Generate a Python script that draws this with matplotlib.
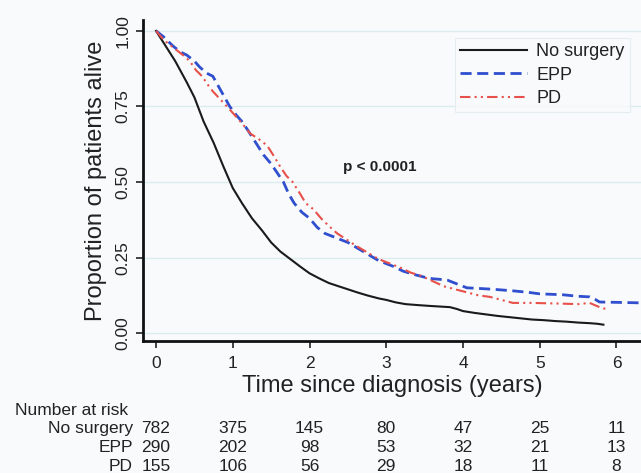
import matplotlib
matplotlib.use("Agg")
import matplotlib.pyplot as plt
from matplotlib import transforms

plt.rcParams["font.family"] = ["Liberation Sans", "DejaVu Sans"]

# Kaplan-Meier estimates (time in years, survival)
nosurg_t = [0, 0.1, 0.25, 0.4, 0.5, 0.62, 0.75, 0.88, 1.0, 1.12, 1.25, 1.38, 1.5, 1.62,
            1.75, 1.88, 2.0, 2.12, 2.25, 2.38, 2.5, 2.62, 2.75, 2.9, 3.0, 3.12, 3.25,
            3.4, 3.57, 3.7, 3.83, 3.92, 4.0, 4.15, 4.3, 4.45, 4.6, 4.75, 4.9, 5.05,
            5.2, 5.35, 5.5, 5.65, 5.75, 5.83]
nosurg_s = [1.0, 0.96, 0.90, 0.83, 0.78, 0.70, 0.63, 0.55, 0.48, 0.43, 0.38, 0.34, 0.30, 0.27,
            0.245, 0.22, 0.198, 0.182, 0.166, 0.155, 0.145, 0.135, 0.125, 0.115, 0.11, 0.102, 0.096,
            0.093, 0.09, 0.088, 0.086, 0.08, 0.073, 0.067, 0.062, 0.057, 0.053, 0.049, 0.045, 0.043,
            0.04, 0.038, 0.035, 0.033, 0.031, 0.028]

epp_t = [0, 0.1, 0.22, 0.32, 0.4, 0.5, 0.57, 0.66, 0.74, 0.85, 0.96, 1.05, 1.12, 1.2, 1.3,
         1.4, 1.5, 1.58, 1.66, 1.73, 1.8, 1.9, 2.0, 2.1, 2.2, 2.3, 2.4, 2.5, 2.6, 2.7,
         2.8, 2.9, 3.0, 3.1, 3.22, 3.35, 3.5, 3.6, 3.7, 3.8, 3.95, 4.05, 4.2, 4.4, 4.65,
         4.85, 5.0, 5.3, 5.5, 5.65, 5.72, 5.78, 6.35]
epp_s = [1.0, 0.98, 0.95, 0.93, 0.92, 0.90, 0.88, 0.86, 0.85, 0.80, 0.75, 0.72, 0.70, 0.67, 0.63,
         0.59, 0.56, 0.53, 0.50, 0.46, 0.43, 0.40, 0.38, 0.35, 0.33, 0.32, 0.31, 0.30, 0.285, 0.27,
         0.255, 0.24, 0.23, 0.22, 0.205, 0.195, 0.185, 0.18, 0.178, 0.175, 0.16, 0.15, 0.148, 0.145, 0.14,
         0.135, 0.13, 0.127, 0.122, 0.12, 0.112, 0.103, 0.10]

pd_t = [0, 0.1, 0.25, 0.35, 0.44, 0.52, 0.6, 0.68, 0.74, 0.85, 0.96, 1.1, 1.23, 1.35, 1.45,
        1.55, 1.62, 1.7, 1.78, 1.88, 1.95, 2.05, 2.15, 2.25, 2.36, 2.48, 2.6, 2.7, 2.8, 2.9,
        3.0, 3.1, 3.2, 3.32, 3.45, 3.58, 3.75, 3.9, 4.05, 4.2, 4.35, 4.5, 4.65, 4.9, 5.23,
        5.5, 5.65, 5.78, 5.86]
pd_s = [1.0, 0.97, 0.94, 0.92, 0.90, 0.87, 0.85, 0.82, 0.80, 0.77, 0.74, 0.70, 0.66, 0.64, 0.62,
        0.58, 0.55, 0.52, 0.50, 0.46, 0.43, 0.41, 0.38, 0.355, 0.33, 0.31, 0.29, 0.275, 0.26, 0.245,
        0.235, 0.225, 0.215, 0.2, 0.19, 0.175, 0.155, 0.145, 0.135, 0.125, 0.12, 0.11, 0.10, 0.10, 0.098,
        0.096, 0.10, 0.086, 0.08]

groups = ["No surgery", "EPP", "PD"]
risk_times = [0, 1, 2, 3, 4, 5, 6]
risk_nosurg = [782, 375, 145, 80, 47, 25, 11]
risk_epp = [290, 202, 98, 53, 32, 21, 13]
risk_pd = [155, 106, 56, 29, 18, 11, 8]

y_ticks = [0, 0.25, 0.5, 0.75, 1.0]
y_ticklabels = ["0.00", "0.25", "0.50", "0.75", "1.00"]

bg = "#f8fafb"
ink = "#222222"
fig = plt.figure(figsize=(6.41, 4.73), dpi=100, facecolor=bg)
ax = fig.add_axes([143 / 641, 1 - 341 / 473, 1 - 143 / 641, (341 - 20) / 473])
ax.set_facecolor(bg)

ax.plot(nosurg_t, nosurg_s, color="#1a1a1a", lw=1.5, label=groups[0])
ax.plot(epp_t, epp_s, color="#2f4fcf", lw=2.0, ls=(0, (4, 2)), label=groups[1])
ax.plot(pd_t, pd_s, color="#e8504a", lw=1.5, ls=(0, (5, 2, 1, 2, 1, 2)), label=groups[2])

ax.set_xlim(-0.17, 6.32)
ax.set_ylim(-0.026, 1.036)
ax.set_xticks(risk_times)
ax.set_yticks(y_ticks)
ax.set_yticklabels(y_ticklabels, rotation=90, va="center")
ax.tick_params(axis="both", labelsize=12.5, length=5, width=1.2, color=ink, labelcolor=ink)
ax.tick_params(axis="x", pad=6)
ax.tick_params(axis="y", pad=4)
ax.yaxis.grid(True, color="#dcecee", lw=1.0)
ax.set_axisbelow(True)
for side in ("top", "right"):
    ax.spines[side].set_visible(False)
for side in ("left", "bottom"):
    ax.spines[side].set_linewidth(2.0)
    ax.spines[side].set_color("#111111")

ax.set_ylabel("Proportion of patients alive", fontsize=17, color=ink, labelpad=6)
ax.set_xlabel("Time since diagnosis (years)", fontsize=17, color=ink, labelpad=2.5)

ax.text(2.92, 0.55, "p < 0.0001", fontsize=11, fontweight="bold", ha="center", va="center",
        color=ink)

leg = ax.legend(loc="upper left", bbox_to_anchor=(455 / 641, 1 - 38 / 473),
                bbox_transform=fig.transFigure, borderaxespad=0, fontsize=13, frameon=True,
                fancybox=False, handlelength=3.7, borderpad=0.3, labelspacing=0.35,
                handletextpad=0.5, labelcolor=ink)
leg.get_frame().set_edgecolor("#e2eaee")
leg.get_frame().set_facecolor(bg)
leg.get_frame().set_linewidth(0.8)

# number at risk table below the axis
trans = transforms.blended_transform_factory(ax.transData, fig.transFigure)
fig.text(15 / 641, 1 - 410 / 473, "Number at risk", fontsize=12.5, ha="left", va="center",
         color=ink)
rows = [risk_nosurg, risk_epp, risk_pd]
row_y = [1 - 428 / 473, 1 - 447 / 473, 1 - 466 / 473]
for name, counts, yy in zip(groups, rows, row_y):
    fig.text(133 / 641, yy, name, fontsize=12.5, ha="right", va="center", color=ink)
    for t, n in zip(risk_times, counts):
        ax.text(t, yy, str(n), transform=trans, fontsize=12.5, ha="center", va="center",
                color=ink, clip_on=False)

fig.savefig("out.png", dpi=100, facecolor=bg)
